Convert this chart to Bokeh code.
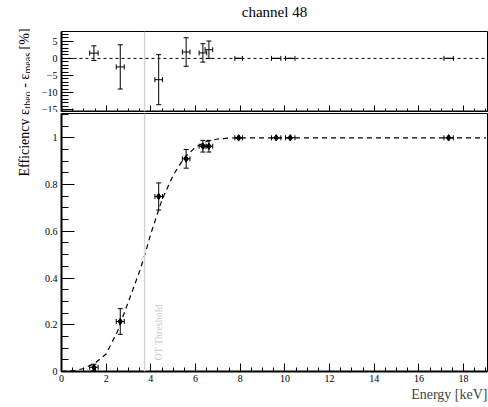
import math
from bokeh.plotting import figure
from bokeh.models import (Range1d, Span, Label, Whisker, ColumnDataSource, TeeHead,
                          FixedTicker, Title)
from bokeh.layouts import row, column
from bokeh.embed import file_html
from bokeh.resources import INLINE

# ---------------- data ----------------
energy = [1.45, 2.63, 4.35, 5.58, 6.33, 6.60, 7.93, 9.61, 10.24, 17.33]
energy_err = [0.19, 0.18, 0.17, 0.17, 0.17, 0.17, 0.17, 0.21, 0.21, 0.21]
efficiency = [0.018, 0.214, 0.749, 0.910, 0.964, 0.964, 1.0, 1.0, 1.0, 1.0]
efficiency_err = [0.013, 0.055, 0.058, 0.040, 0.025, 0.025, 0.0, 0.0, 0.0, 0.0]
residual = [1.55, -2.5, -6.26, 1.87, 1.61, 2.55, 0.0, 0.0, 0.0, 0.0]
residual_err = [2.15, 6.5, 7.34, 4.2, 2.7, 2.55, 0.0, 0.0, 0.0, 0.0]
fit_energy = [0.0, 0.6, 1.0, 1.5, 2.0, 2.5, 3.0, 3.5, 3.7, 4.0, 4.5, 5.0, 5.5,
              6.0, 6.5, 7.0, 7.5, 8.0, 19.0]
fit_eff = [0.0, 0.004, 0.013, 0.036, 0.075, 0.17, 0.30, 0.43, 0.49, 0.59, 0.735,
           0.84, 0.915, 0.96, 0.985, 0.995, 0.999, 1.0, 1.0]
threshold = 3.72
x_ticks = [0, 2, 4, 6, 8, 10, 12, 14, 16, 18]
x_minor = [i * 0.5 for i in range(0, 39)]
eff_ticks = [0, 0.2, 0.4, 0.6, 0.8, 1.0]
eff_labels = {0: "0", 0.2: "0.2", 0.4: "0.4", 0.6: "0.6", 0.8: "0.8", 1.0: "1"}
eff_minor = [i * 0.05 for i in range(0, 23)]
res_ticks = [-15, -10, -5, 0, 5]
res_minor = list(range(-15, 8))

FONT = "Liberation Serif"

# ---------------- sources ----------------
src = ColumnDataSource(dict(
    x=energy,
    xl=[e - d for e, d in zip(energy, energy_err)],
    xu=[e + d for e, d in zip(energy, energy_err)],
    y=efficiency,
    yl=[v - d for v, d in zip(efficiency, efficiency_err)],
    yu=[v + d for v, d in zip(efficiency, efficiency_err)],
    r=residual,
    rl=[v - d for v, d in zip(residual, residual_err)],
    ru=[v + d for v, d in zip(residual, residual_err)],
))


def style(p, xmaj_in, xmin_in, ymaj_in, ymin_in):
    p.grid.visible = False
    p.outline_line_color = "black"
    p.outline_line_width = 1
    p.background_fill_color = "white"
    p.border_fill_color = "white"
    for ax in p.axis:
        ax.axis_line_width = 2
        ax.axis_line_color = "black"
        ax.major_tick_out = 0
        ax.minor_tick_out = 0
        ax.major_tick_line_color = "black"
        ax.minor_tick_line_color = "black"
        ax.major_label_text_font = FONT
        ax.major_label_text_font_size = "10px"
        ax.major_label_text_color = "black"
    p.xaxis.major_tick_in = xmaj_in
    p.xaxis.minor_tick_in = xmin_in
    p.yaxis.major_tick_in = ymaj_in
    p.yaxis.minor_tick_in = ymin_in
    p.yaxis.major_label_standoff = 4


def whiskers(p, base, lo, hi, dim, size):
    w = Whisker(source=src, base=base, lower=lo, upper=hi, dimension=dim,
                line_color="black", line_width=1,
                upper_head=TeeHead(size=size, line_color="black", line_width=1),
                lower_head=TeeHead(size=size, line_color="black", line_width=1))
    p.add_layout(w)


def blank(width, height):
    f = figure(width=width, height=height, output_backend="svg",
               toolbar_location=None, x_axis_type=None, y_axis_type=None,
               min_border=0, x_range=(0, 1), y_range=(0, 1))
    f.grid.visible = False
    f.outline_line_color = None
    return f


# ---------------- label figure (y-axis title spanning both panels) ----------------
lab = blank(30, 407)
pieces = [("Efficiency ε", 14, 24, 231),
          ("theo", 10, 27, 299),
          ("- ε", 14, 24, 319.7),
          ("meas", 10, 27, 334),
          ("[%]", 14, 24, 358.1)]
for txt, fs, xs, ys in pieces:
    lab.add_layout(Label(x=xs, y=ys, x_units="screen", y_units="screen", text=txt,
                         angle=math.pi / 2, text_font=FONT,
                         text_font_size=f"{fs}px", text_color="black",
                         text_align="left", text_baseline="alphabetic"))

# ---------------- title strip ----------------
ttl = blank(458, 20)
ttl.add_layout(Label(x=213, y=9, x_units="screen", y_units="screen",
                     text="channel 48", text_font=FONT, text_font_size="15px",
                     text_color="black", text_align="center",
                     text_baseline="alphabetic"))

# ---------------- top (residual) figure ----------------
top = figure(width=458, height=92, output_backend="svg", toolbar_location=None,
             x_range=Range1d(0, 19.07), y_range=Range1d(-15.6, 7.9),
             min_border_left=31, min_border_right=1, min_border_top=11,
             min_border_bottom=1)
style(top, 6, 3, 12, 7)
top.xaxis.ticker = FixedTicker(ticks=x_ticks, minor_ticks=x_minor)
top.xaxis.major_label_overrides = {t: "" for t in x_ticks}
top.xaxis.major_label_standoff = 0
top.yaxis.ticker = FixedTicker(ticks=res_ticks, minor_ticks=res_minor)

top.add_layout(Span(location=threshold, dimension="height", line_color="#d4d4d4",
                    line_width=1.5))
top.add_layout(Span(location=0, dimension="width", line_color="black",
                    line_width=1, line_dash="3 3"))
whiskers(top, "r", "xl", "xu", "width", 5)
whiskers(top, "x", "rl", "ru", "height", 5)

# ---------------- bottom (efficiency) figure ----------------
bot = figure(width=458, height=295, output_backend="svg", toolbar_location=None,
             x_range=top.x_range, y_range=Range1d(0, 1.104),
             min_border_left=31, min_border_right=1, min_border_top=1,
             min_border_bottom=36)
style(bot, 8, 4, 13, 7)
bot.xaxis.ticker = FixedTicker(ticks=x_ticks, minor_ticks=x_minor)
bot.xaxis.major_label_standoff = 3
bot.yaxis.ticker = FixedTicker(ticks=eff_ticks, minor_ticks=eff_minor)
bot.yaxis.major_label_overrides = eff_labels

bot.add_layout(Span(location=threshold, dimension="height", line_color="#d4d4d4",
                    line_width=1.5))
bot.add_layout(Label(x=threshold, y=0, x_offset=14, y_offset=11, text="OT Threshold",
                     angle=math.pi / 2, text_font=FONT, text_font_size="10px",
                     text_color="#c8c8c8", text_align="left",
                     text_baseline="alphabetic"))
bot.line(fit_energy, fit_eff, line_color="black", line_width=1.2, line_dash="5 4")
whiskers(bot, "y", "xl", "xu", "width", 5)
whiskers(bot, "x", "yl", "yu", "height", 5)
bot.scatter("x", "y", source=src, marker="diamond", size=6.5, color="black")
bot.add_layout(Title(text="Energy [keV]", align="right", text_font=FONT,
                     text_font_size="14px", text_font_style="normal",
                     standoff=0), "below")

layout = row(lab, column(ttl, top, bot))
open("out.html", "w").write(file_html(layout, INLINE))
